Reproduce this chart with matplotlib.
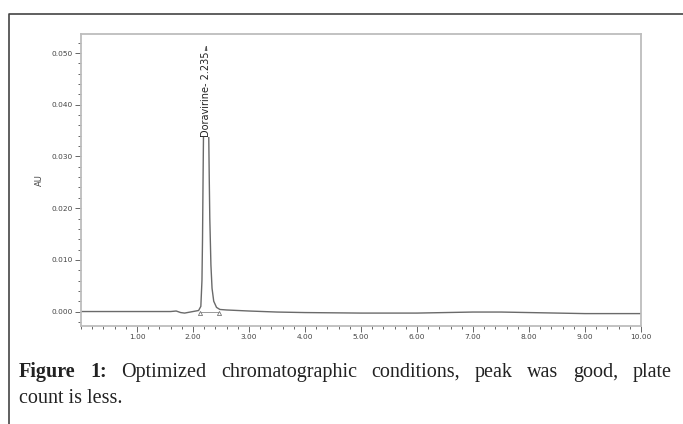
import matplotlib
matplotlib.use("Agg")
import matplotlib.pyplot as plt
from matplotlib.lines import Line2D
from matplotlib.patches import Rectangle
from matplotlib.ticker import FixedLocator, MultipleLocator, FormatStrFormatter

# chromatogram trace (minutes, AU)
minutes = [0.00, 0.50, 1.00, 1.40, 1.60, 1.70, 1.78, 1.85, 1.95, 2.05, 2.10,
           2.14, 2.16, 2.17, 2.18, 2.19, 2.20, 2.215, 2.235, 2.255, 2.27, 2.28,
           2.29, 2.30, 2.32, 2.34, 2.37, 2.42, 2.48, 2.60, 2.80, 3.00, 3.50,
           4.00, 5.00, 6.00, 6.50, 7.00, 7.50, 8.00, 8.50, 9.00, 9.50, 10.00]
au = [0.0000, 0.0000, 0.0000, 0.0000, 0.0000, 0.0001, -0.0002, -0.0003, -0.0001, 0.0001, 0.0002,
      0.0010, 0.0060, 0.0140, 0.0260, 0.0370, 0.0450, 0.0500, 0.0512, 0.0495, 0.0430, 0.0350,
      0.0260, 0.0180, 0.0090, 0.0045, 0.0020, 0.0008, 0.0004, 0.0003, 0.0002, 0.0001, -0.0001,
      -0.0002, -0.0003, -0.0003, -0.0002, -0.0001, -0.0001, -0.0002, -0.0003, -0.0004, -0.0004, -0.0004]

peak_label = "Doravirine- 2.235"
peak_rt = 2.235
peak_bounds = [2.13, 2.47]

x_ticks = [1.0, 2.0, 3.0, 4.0, 5.0, 6.0, 7.0, 8.0, 9.0, 10.0]
y_ticks = [0.000, 0.010, 0.020, 0.030, 0.040, 0.050]

caption_bold = "Figure 1:"
caption_line1 = "Optimized chromatographic conditions, peak was good, plate"
caption_line2 = "count is less."

W, H = 683, 424
fig = plt.figure(figsize=(W / 100, H / 100), dpi=100)
ax = fig.add_axes([81 / W, 1 - 326 / H, (641 - 81) / W, (326 - 34) / H])

ax.plot(minutes, au, color="#6a6a6a", lw=1.0, zorder=2)
# integration baseline + start/end marks
ax.plot(peak_bounds, [0, 0], color="#8a8a8a", lw=0.6, zorder=1)
ax.plot(peak_bounds, [-0.0002, -0.0002], ls="none", marker="^", ms=3,
        mfc="white", mec="#777", mew=0.6, zorder=3)

# peak label, sitting over the peak
ax.plot([peak_rt, peak_rt], [0.0503, 0.0514], color="#555", lw=0.7, zorder=4)
ax.text(peak_rt, 0.0504, peak_label, rotation=90, ha="center", va="top",
        fontsize=7, color="#222", family="DejaVu Sans", zorder=5,
        bbox=dict(fc="white", ec="none", pad=0.3))

ax.set_xlim(0, 10)
ax.set_ylim(-0.0028, 0.0537)
ax.xaxis.set_major_locator(FixedLocator(x_ticks))
ax.xaxis.set_minor_locator(MultipleLocator(0.2))
ax.xaxis.set_major_formatter(FormatStrFormatter("%.2f"))
ax.yaxis.set_major_locator(FixedLocator(y_ticks))
ax.yaxis.set_minor_locator(MultipleLocator(0.002))
ax.yaxis.set_major_formatter(FormatStrFormatter("%.3f"))

ax.tick_params(which="both", direction="out", color="#666", width=0.7,
               labelsize=5.3, labelcolor="#444", pad=2)
ax.tick_params(which="major", length=4)
ax.tick_params(which="minor", length=2.5)
for s in ax.spines.values():
    s.set_color("#bdbdbd")
    s.set_linewidth(1.3)

ax.set_ylabel("AU", fontsize=6, color="#444")
ax.yaxis.set_label_coords(-0.066, 0.5)
ax.set_xlabel("Minutes", fontsize=5.5, color="#444")
ax.xaxis.set_label_coords(0.498, -0.085)

# caption panel hides the lower part of the x label
fig.add_artist(Rectangle((0, 0), 1, 1 - 350 / H, transform=fig.transFigure,
                         fc="white", ec="none", zorder=5))

# outer frame (top and left only visible)
fig.add_artist(Line2D([9 / W, 9 / W, 1.0], [0.0, 1 - 14 / H, 1 - 14 / H],
                      transform=fig.transFigure, color="#444", lw=1.2, zorder=7))

# caption, first line justified
cap_font = dict(family="Liberation Serif", fontsize=14.5, color="#222", zorder=6)
x0, x1 = 19, 672
y1, y2 = 1 - 377 / H, 1 - 403 / H

words = [(w, "bold") for w in caption_bold.split()] + \
        [(w, "normal") for w in caption_line1.split()]
texts = [fig.text(0, y1, w, fontweight=fw, va="baseline", **cap_font) for w, fw in words]
fig.canvas.draw()
r = fig.canvas.get_renderer()
widths = [t.get_window_extent(r).width for t in texts]
gap = (x1 - x0 - sum(widths)) / (len(texts) - 1)
xpos = x0
for t, wd in zip(texts, widths):
    t.set_x(xpos / W)
    xpos += wd + gap

fig.text(x0 / W, y2, caption_line2, va="baseline", **cap_font)

fig.savefig("out.png", dpi=100)
